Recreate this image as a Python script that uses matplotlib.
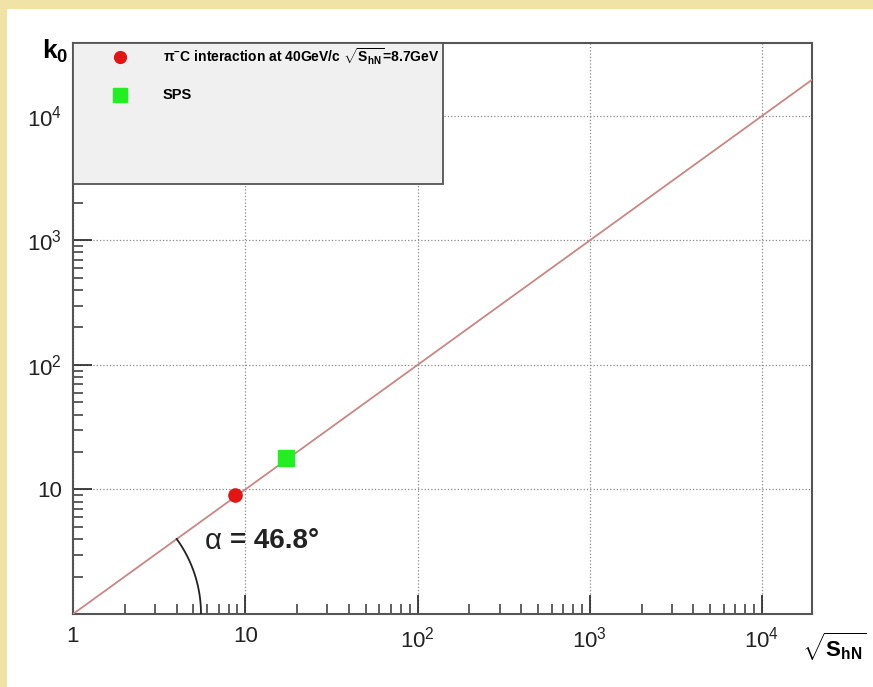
import numpy as np
import matplotlib
matplotlib.use("Agg")
import matplotlib.pyplot as plt
from matplotlib import font_manager
from matplotlib.patches import Rectangle
from matplotlib.ticker import FixedLocator, NullFormatter

plt.rcParams['font.family'] = ['Liberation Sans', 'DejaVu Sans']
plt.rcParams['mathtext.fontset'] = 'custom'
plt.rcParams['mathtext.rm'] = 'Liberation Sans'
plt.rcParams['mathtext.it'] = 'Liberation Sans:italic'
plt.rcParams['mathtext.bf'] = 'Liberation Sans:bold'

# data
fit_sqrt_s = [1, 19500]
fit_k0 = [1, 19500]
pic_sqrt_s = [8.7]
pic_k0 = [9.0]
sps_sqrt_s = [17.3]
sps_k0 = [17.9]
x_major = [1, 10, 100, 1000, 10000]
x_labels = ['1', '10', r'$\mathregular{10^{2}}$', r'$\mathregular{10^{3}}$', r'$\mathregular{10^{4}}$']
y_major = [10, 100, 1000, 10000]
y_labels = ['10', r'$\mathregular{10^{2}}$', r'$\mathregular{10^{3}}$', r'$\mathregular{10^{4}}$']
angle_text = "46.8°"

names = {f.name for f in font_manager.fontManager.ttflist}
narrow = 'Liberation Sans Narrow' if 'Liberation Sans Narrow' in names else 'Liberation Sans'

fig = plt.figure(figsize=(8.73, 6.87), dpi=100)
fig.patch.set_facecolor('#f1e2a6')
fig.patches.append(Rectangle((7 / 873, 0), 1, 1 - 9 / 687, transform=fig.transFigure,
                             facecolor='white', edgecolor='none', zorder=-5))

ax = fig.add_axes([73 / 873, 1 - 614 / 687, 739 / 873, 571 / 687])
ax.set_xscale('log')
ax.set_yscale('log')
ax.set_xlim(1, 19500)
ax.set_ylim(1, 38500)

ax.plot(fit_sqrt_s, fit_k0, color='#cc8585', lw=1.3, zorder=3)
ax.plot(pic_sqrt_s, pic_k0, 'o', color='#e31414', ms=9.5, zorder=4)
ax.plot(sps_sqrt_s, sps_k0, 's', color='#22ee22', ms=11, zorder=4)

# ticks
ax.xaxis.set_major_locator(FixedLocator(x_major))
ax.set_xticklabels(x_labels)
ax.yaxis.set_major_locator(FixedLocator(y_major))
ax.set_yticklabels(y_labels)
minors = [m * 10 ** d for d in range(0, 5) for m in range(2, 10)]
ax.xaxis.set_minor_locator(FixedLocator(minors))
ax.yaxis.set_minor_locator(FixedLocator(minors))
ax.xaxis.set_minor_formatter(NullFormatter())
ax.yaxis.set_minor_formatter(NullFormatter())
ax.tick_params(which='both', direction='in', top=False, right=False, color='#444', width=1.2)
ax.tick_params(which='major', length=14, labelsize=16, colors='#222')
ax.tick_params(which='minor', length=7)
ax.tick_params(axis='x', which='major', pad=9)
ax.tick_params(axis='y', which='major', pad=8)
for s in ax.spines.values():
    s.set_color('#555')
    s.set_linewidth(1.5)
ax.grid(True, which='major', ls=':', color='#888', lw=0.9)

# legend box
ax.add_patch(Rectangle((0, 0.753), 0.5007, 0.247, transform=ax.transAxes,
                       facecolor='#f0f0f0', edgecolor='#555', lw=1.3, zorder=5))
ax.plot([0.0636], [0.9755], 'o', color='#e31414', ms=8.5, transform=ax.transAxes, zorder=6, clip_on=False)
ax.plot([0.0636], [0.909], 's', color='#22ee22', ms=10, transform=ax.transAxes, zorder=6, clip_on=False)
ax.text(0.1218, 0.9755, r"$\mathbf{\pi^{-}}$C interaction at 40GeV/c $\mathbf{\sqrt{S_{hN}}}$=8.7GeV",
        transform=ax.transAxes, family=narrow, weight='bold', fontsize=10, va='center', zorder=6)
ax.text(0.1218, 0.909, "SPS", transform=ax.transAxes, family=narrow, weight='bold',
        fontsize=10.5, va='center', zorder=6)

# axis titles
ax.text(-0.024, 0.985, r"$\mathbf{k_0}$", transform=ax.transAxes, fontsize=19,
        ha='center', va='center')
ax.text(1.03, -0.058, r"$\mathbf{\sqrt{S_{hN}}}$", transform=ax.transAxes, fontsize=16,
        ha='center', va='center')

# angle arc drawn in pixel space from the lower-left corner
fig.canvas.draw()
p0 = ax.transData.transform((fit_sqrt_s[0], fit_k0[0]))
p1 = ax.transData.transform((fit_sqrt_s[1], fit_k0[1]))
ang = np.arctan2(p1[1] - p0[1], p1[0] - p0[0])
bb = ax.get_window_extent()
r = 128
t = np.linspace(0, ang, 60)
ax.plot(r * np.cos(t) / bb.width, r * np.sin(t) / bb.height, color='#222', lw=1.3,
        transform=ax.transAxes, zorder=3)
ax.text(0.1786, 0.128, "α", transform=ax.transAxes, fontsize=21, va='center', color='#222')
ax.text(0.212, 0.128, "= " + angle_text, transform=ax.transAxes, fontsize=20,
        weight='bold', va='center', color='#222')

fig.savefig('out.png', dpi=100, facecolor=fig.get_facecolor())
